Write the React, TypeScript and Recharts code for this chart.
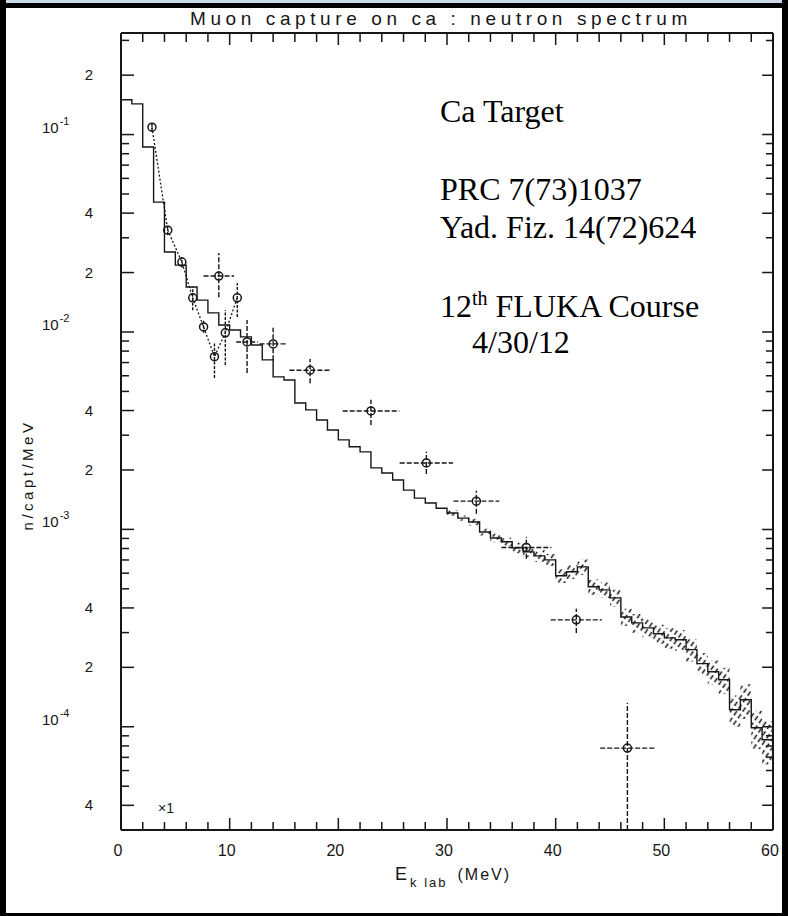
import React from "react";
import { ComposedChart, Line, Area, Scatter, XAxis, YAxis, ErrorBar } from "recharts";

// FLUKA histogram, 1 MeV bins (lower edge in MeV), n/capt/MeV
const binStart = [
  0, 1, 2, 3, 4, 5, 6, 7, 8, 9, 10, 11, 12, 13, 14, 15, 16, 17, 18, 19,
  20, 21, 22, 23, 24, 25, 26, 27, 28, 29, 30, 31, 32, 33, 34, 35, 36, 37, 38, 39,
  40, 41, 42, 43, 44, 45, 46, 47, 48, 49, 50, 51, 52, 53, 54, 55, 56, 57, 58, 59,
];
const mcFlux = [
  0.15, 0.143, 0.0865, 0.0455, 0.0254, 0.0218, 0.0169, 0.0145, 0.0125, 0.01084,
  0.01023, 0.00944, 0.00859, 0.00722, 0.00592, 0.00571, 0.00437, 0.00403, 0.00358, 0.00319,
  0.00284, 0.00262, 0.00247, 0.00205, 0.00193, 0.00178, 0.00158, 0.00144, 0.00136, 0.00128,
  0.00121, 0.00114, 0.00109, 0.00097, 0.000905, 0.000865, 0.000806, 0.000769, 0.000734, 0.000701,
  0.000582, 0.00061, 0.000646, 0.000512, 0.000494, 0.00045, 0.00036, 0.000336, 0.000317, 0.000296,
  0.000282, 0.000276, 0.000246, 0.000209, 0.00019, 0.000173, 0.000122, 0.000137, 0.0000989, 0.0000859,
];
// relative statistical error of each bin (hatched band)
const mcRelErr = [
  0, 0, 0, 0, 0, 0, 0, 0, 0, 0, 0, 0, 0, 0, 0, 0, 0, 0, 0, 0,
  0, 0, 0, 0, 0, 0, 0, 0, 0, 0, 0.03, 0.03, 0.04, 0.04, 0.05, 0.05, 0.06, 0.06, 0.07, 0.07,
  0.08, 0.08, 0.09, 0.09, 0.09, 0.1, 0.1, 0.11, 0.11, 0.11, 0.12, 0.12, 0.13, 0.13, 0.14, 0.15, 0.18, 0.2, 0.22, 0.25,
];

// Yad. Fiz. 14(72)624 (points joined by dotted line)
const yadE = [2.85, 4.3, 5.6, 6.6, 7.6, 8.6, 9.6, 10.7];
const yadFlux = [0.109, 0.0328, 0.0226, 0.0149, 0.0106, 0.0075, 0.0099, 0.0149];
const yadLow = [0.104, 0.031, 0.0212, 0.0129, 0.0099, 0.00585, 0.0068, 0.0119];
const yadHigh = [0.114, 0.0345, 0.024, 0.0169, 0.0114, 0.00879, 0.0129, 0.0177];

// PRC 7(73)1037
const prcE = [9.0, 11.6, 14.0, 17.4, 23.0, 28.1, 32.7, 37.3, 41.9, 46.6];
const prcHalfWidth = [1.4, 1.0, 1.25, 1.9, 2.6, 2.45, 2.1, 2.3, 2.35, 2.5];
const prcFlux = [0.0192, 0.0089, 0.0087, 0.0064, 0.00398, 0.00217, 0.00139, 0.00081, 0.000348, 0.000078];
const prcLow = [0.015, 0.0062, 0.0072, 0.0055, 0.00338, 0.00191, 0.0012, 0.00071, 0.000299, 0.00003];
const prcHigh = [0.0251, 0.0115, 0.0105, 0.0073, 0.00453, 0.00247, 0.00157, 0.000916, 0.000396, 0.000132];

const xTicks = [0, 2, 4, 6, 8, 10, 12, 14, 16, 18, 20, 22, 24, 26, 28, 30, 32, 34, 36, 38, 40, 42, 44, 46, 48, 50, 52, 54, 56, 58, 60];
const xLabels = [0, 10, 20, 30, 40, 50, 60];
const decades = [1e-5, 1e-4, 1e-3, 1e-2, 1e-1];
const mantissas = [1, 2, 3, 4, 5, 6, 7, 8, 9];
const E_MIN = 0;
const E_MAX = 60;
const Y_MIN = 3.0e-5;
const Y_MAX = 0.327;

const yTicks = decades
  .flatMap((d) => mantissas.map((m) => m * d))
  .filter((v) => v >= Y_MIN && v <= Y_MAX);

const mcRows = [
  ...binStart.map((E, i) => ({ E, flux: mcFlux[i] })),
  { E: E_MAX, flux: mcFlux[mcFlux.length - 1] },
];

const bandRows = binStart
  .map((E, i) => ({
    E,
    flux: mcFlux[i],
    band: [mcFlux[i] * (1 - mcRelErr[i]), mcFlux[i] * (1 + mcRelErr[i])],
  }))
  .filter((_, i) => mcRelErr[i] > 0);
bandRows.push({ ...bandRows[bandRows.length - 1], E: E_MAX });

const yadRows = yadE.map((E, i) => ({
  E,
  flux: yadFlux[i],
  err: [yadFlux[i] - yadLow[i], yadHigh[i] - yadFlux[i]],
}));

const prcRows = prcE.map((E, i) => ({
  E,
  flux: prcFlux[i],
  ex: prcHalfWidth[i],
  ey: [prcFlux[i] - prcLow[i], prcHigh[i] - prcFlux[i]],
}));

const INK = "#161616";
const SANS = "'Liberation Sans', Arial, sans-serif";
const SERIF = "'Liberation Serif', 'Times New Roman', serif";

function splitLog(v: number) {
  const e = Math.floor(Math.log10(v) + 1e-9);
  return { e, m: Math.round(v / Math.pow(10, e)) };
}

const isBigY = (v: number) => {
  const { m } = splitLog(v);
  return m === 1 || m === 2 || m === 4;
};

// inward tick combs along the right and top frame edges, drawn as polylines
const rightComb = [...yTicks].reverse().flatMap((v) => [
  { E: E_MAX, flux: v },
  { E: E_MAX - (isBigY(v) ? 1.0 : 0.65), flux: v },
  { E: E_MAX, flux: v },
]);
const topComb = xTicks.flatMap((E) => [
  { E, flux: Y_MAX },
  { E, flux: Y_MAX / (E % 10 === 0 ? 1.15 : 1.11) },
  { E, flux: Y_MAX },
]);

function LeftTick({ x, y, payload }: any) {
  const { e, m } = splitLog(payload.value);
  const big = isBigY(payload.value);
  return (
    <g>
      <line x1={x} x2={x + (big ? 13 : 8)} y1={y} y2={y} stroke={INK} strokeWidth={1.5} />
      {m === 1 && (
        <text x={x - 79} y={y - 2} fontFamily={SANS} fontSize={15} fill={INK}>
          10
          <tspan dx={1} dy={-8} fontSize={11}>{e}</tspan>
        </text>
      )}
      {(m === 2 || m === 4) && (
        <text x={x - 32} y={y + 5} textAnchor="middle" fontFamily={SANS} fontSize={15} fill={INK}>
          {m}
        </text>
      )}
    </g>
  );
}

function BottomTick({ x, y, payload }: any) {
  const v = payload.value;
  const big = v % 10 === 0;
  return (
    <g>
      <line x1={x} x2={x} y1={y} y2={y - (big ? 12 : 8)} stroke={INK} strokeWidth={1.5} />
      {xLabels.includes(v) && (
        <text x={x - 3} y={y + 26} textAnchor="middle" fontFamily={SANS} fontSize={16} fill={INK}>
          {v}
        </text>
      )}
    </g>
  );
}

const OpenCircle = (props: any) => {
  const { cx, cy } = props;
  if (cx == null || cy == null) return <g />;
  return <circle cx={cx} cy={cy} r={4} fill="none" stroke={INK} strokeWidth={1.5} />;
};

export default function App() {
  return (
    <div style={{ position: "absolute", left: 0, top: 0, width: 788, height: 916, background: "#fff", overflow: "hidden" }}>
      <ComposedChart width={788} height={916} margin={{ top: 32, right: 14, bottom: 0, left: 0 }}>
        <defs>
          <pattern id="mcHatch" width={5} height={8} patternUnits="userSpaceOnUse" patternTransform="rotate(35)">
            <line x1={1.5} y1={0} x2={1.5} y2={5} stroke="#111" strokeWidth={1.5} />
          </pattern>
        </defs>
        <XAxis
          dataKey="E"
          type="number"
          domain={[E_MIN, E_MAX]}
          ticks={xTicks}
          interval={0}
          height={86}
          tickSize={0}
          tickMargin={0}
          tickLine={false}
          axisLine={{ stroke: INK, strokeWidth: 2 }}
          tick={<BottomTick />}
        />
        <XAxis
          xAxisId="top"
          orientation="top"
          dataKey="E"
          type="number"
          domain={[E_MIN, E_MAX]}
          ticks={xTicks}
          height={1}
          tickLine={false}
          axisLine={{ stroke: INK, strokeWidth: 2 }}
          tick={false}
        />
        <YAxis
          dataKey="flux"
          type="number"
          scale="log"
          domain={[Y_MIN, Y_MAX]}
          allowDataOverflow
          ticks={yTicks}
          interval={0}
          width={121}
          tickSize={0}
          tickMargin={0}
          tickLine={false}
          axisLine={{ stroke: INK, strokeWidth: 2 }}
          tick={<LeftTick />}
        />
        <YAxis
          yAxisId="right"
          orientation="right"
          dataKey="flux"
          type="number"
          scale="log"
          domain={[Y_MIN, Y_MAX]}
          allowDataOverflow
          ticks={yTicks}
          width={1}
          tickLine={false}
          axisLine={{ stroke: INK, strokeWidth: 2 }}
          tick={false}
        />

        {/* same histogram bound to the mirrored axes so the top and right frame get drawn */}
        <Line
          data={mcRows}
          dataKey="flux"
          xAxisId="top"
          yAxisId="right"
          type="stepAfter"
          stroke="none"
          dot={false}
          activeDot={false}
          legendType="none"
          isAnimationActive={false}
        />

        <Line
          data={rightComb}
          dataKey="flux"
          type="linear"
          stroke={INK}
          strokeWidth={1.5}
          dot={false}
          activeDot={false}
          legendType="none"
          isAnimationActive={false}
        />
        <Line
          data={topComb}
          dataKey="flux"
          type="linear"
          stroke={INK}
          strokeWidth={1.5}
          dot={false}
          activeDot={false}
          legendType="none"
          isAnimationActive={false}
        />

        <Area
          data={bandRows}
          dataKey="band"
          type="stepAfter"
          stroke="none"
          fill="url(#mcHatch)"
          fillOpacity={1}
          isAnimationActive={false}
        />
        <Line
          data={mcRows}
          dataKey="flux"
          type="stepAfter"
          stroke={INK}
          strokeWidth={1.4}
          dot={false}
          isAnimationActive={false}
        />
        <Line
          data={yadRows}
          dataKey="flux"
          type="linear"
          stroke={INK}
          strokeWidth={1.3}
          strokeDasharray="2 2"
          dot={<OpenCircle />}
          isAnimationActive={false}
        >
          <ErrorBar dataKey="err" direction="y" width={0} stroke={INK} strokeWidth={1.4} strokeDasharray="3 1.5" />
        </Line>
        <Scatter data={prcRows} dataKey="flux" shape={<OpenCircle />} isAnimationActive={false}>
          <ErrorBar dataKey="ex" direction="x" width={0} stroke={INK} strokeWidth={1.4} strokeDasharray="5 2" />
          <ErrorBar dataKey="ey" direction="y" width={0} stroke={INK} strokeWidth={1.4} strokeDasharray="5 2" />
        </Scatter>
      </ComposedChart>

      <svg width={788} height={916} style={{ position: "absolute", left: 0, top: 0, pointerEvents: "none" }}>
        <text x={190} y={25} fontFamily={SANS} fontSize={19} letterSpacing={4.6} fill={INK}>
          Muon capture on ca : neutron spectrum
        </text>
        <text
          x={33}
          y={475}
          transform="rotate(-90 33 475)"
          textAnchor="middle"
          fontFamily={SANS}
          fontSize={15}
          letterSpacing={3.5}
          fill={INK}
        >
          n/capt/MeV
        </text>
        <text x={158} y={813} fontFamily={SANS} fontSize={14} fill={INK}>
          ×1
        </text>
        <text x={395} y={880} fontFamily={SANS} fontSize={18} letterSpacing={2} fill={INK}>
          E
          <tspan dx={1} dy={7} fontSize={13}>k lab</tspan>
          <tspan dx={10} dy={-7} fontSize={16}>(MeV)</tspan>
        </text>

        <g fontFamily={SERIF} fontSize={32} fill="#000">
          <text x={440} y={122}>Ca Target</text>
          <text x={440} y={200}>PRC 7(73)1037</text>
          <text x={440} y={238}>Yad. Fiz. 14(72)624</text>
          <text x={440} y={317}>
            12
            <tspan dy={-12} fontSize={20}>th</tspan>
            <tspan dy={12}> FLUKA Course</tspan>
          </text>
          <text x={472} y={353}>4/30/12</text>
        </g>
      </svg>

      {/* scanned-page edges */}
      <div style={{ position: "absolute", left: 0, top: 0, width: 788, height: 3, background: "#c9d9ea" }} />
      <div style={{ position: "absolute", left: 0, top: 3, width: 788, height: 5, background: "#000" }} />
      <div style={{ position: "absolute", left: 0, top: 0, width: 6, height: 916, background: "#000" }} />
      <div style={{ position: "absolute", right: 0, top: 0, width: 6, height: 916, background: "#000" }} />
      <div style={{ position: "absolute", left: 0, bottom: 0, width: 788, height: 3, background: "#000" }} />
    </div>
  );
}
